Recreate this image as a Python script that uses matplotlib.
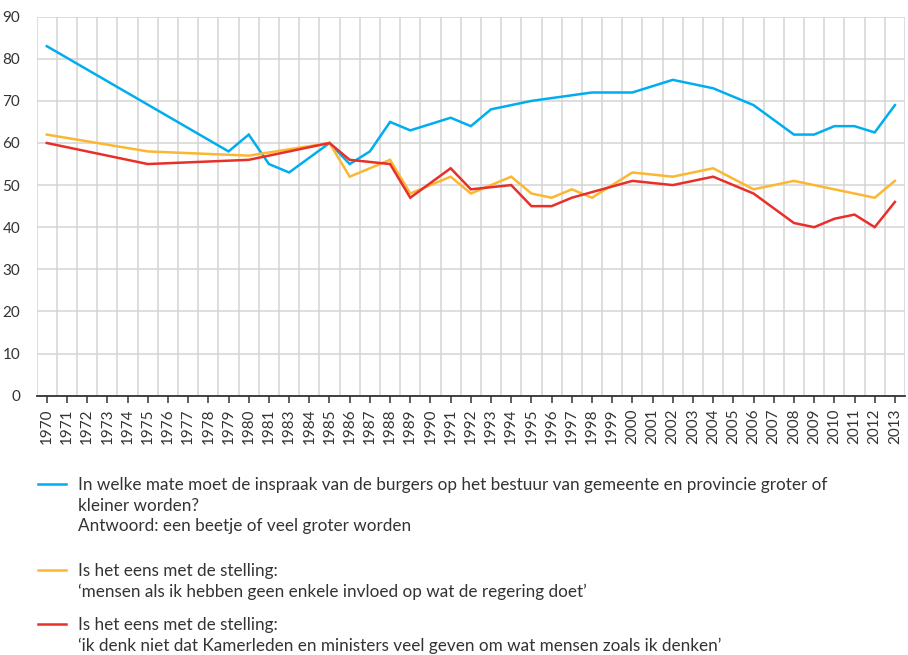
import matplotlib
matplotlib.use('Agg')
import matplotlib.pyplot as plt
from matplotlib.lines import Line2D
from matplotlib.ticker import FixedLocator
import numpy as np

#categories on the x axis (1982 is not in the series)
years = [str(y) for y in range(1970, 1982)] + [str(y) for y in range(1983, 2014)]

#percentages per year, None where the year has no measurement
inspraak = [83, None, None, None, None, None, None, None, None, 58, 62, 55,
            53, None, 60, 55, 58, 65, 63, None, 66, 64, 68, 69, 70, None,
            None, 72, None, 72, None, 75, None, 73, None, 69, None, 62, 62,
            64, 64, 62.5, 69]
invloed = [62, None, None, None, None, 58, None, None, None, None, 57, None,
           None, None, 60, 52, None, 56, 48, None, 52, 48, 50, 52, 48, 47,
           49, 47, None, 53, None, 52, None, 54, None, 49, None, 51, None,
           None, None, 47, 51]
kamerleden = [60, None, None, None, None, 55, None, None, None, None, 56, None,
              None, None, 60, 56, None, 55, 47, None, 54, 49, None, 50, 45, 45,
              47, None, None, 51, None, 50, None, 52, None, 48, None, 41, 40,
              42, 43, 40, 46]

labels = ['In welke mate moet de inspraak van de burgers op het bestuur van gemeente en provincie groter of\n'
          'kleiner worden?\nAntwoord: een beetje of veel groter worden',
          'Is het eens met de stelling:\n'
          '\u2018mensen als ik hebben geen enkele invloed op wat de regering doet\u2019',
          'Is het eens met de stelling:\n'
          '\u2018ik denk niet dat Kamerleden en ministers veel geven om wat mensen zoals ik denken\u2019']
colors = ['#00aeef', '#fbb732', '#e8302a']

plt.rcParams['font.family'] = ['Lato', 'DejaVu Sans']

W, H = 908, 655
fig = plt.figure(figsize=(W / 100, H / 100), dpi=100)
ax = fig.add_axes([36.7 / W, 1 - 395.6 / H, (905 - 36.7) / W, (395.6 - 16.7) / H])

for series, col in zip([inspraak, invloed, kamerleden], colors):
    xs = [i for i, v in enumerate(series) if v is not None]
    ys = [v for v in series if v is not None]
    ax.plot(xs, ys, color=col, lw=1.8, solid_joinstyle='miter', zorder=3)

ax.set_xlim(-0.5, len(years) - 0.5)
ax.set_ylim(0, 90)
ax.set_yticks(range(0, 91, 10))
ax.set_xticks(range(len(years)))
ax.set_xticklabels(years, rotation=90)
ax.xaxis.set_minor_locator(FixedLocator(np.arange(-0.5, len(years), 1)))

ax.grid(axis='y', which='major', color='#d4d4d4', lw=1.1)
ax.grid(axis='x', which='minor', color='#d4d4d4', lw=1.1)
ax.set_axisbelow(True)

for s in ['left', 'right', 'top']:
    ax.spines[s].set_visible(False)
ax.spines['bottom'].set_color('#333333')
ax.spines['bottom'].set_linewidth(1.3)

ax.tick_params(axis='x', which='major', length=5, width=1.1, color='#333333',
               labelsize=11, labelcolor='#333333', pad=4)
ax.tick_params(axis='x', which='minor', length=0)
ax.tick_params(axis='y', length=0, labelsize=11, labelcolor='#333333', pad=12)

#legend drawn by hand below the chart
entry_y = [484, 570, 624]
for lab, col, y in zip(labels, colors, entry_y):
    fig.add_artist(Line2D([38 / W, 66 / W], [1 - y / H, 1 - y / H], color=col, lw=1.8))
    fig.text(78 / W, 1 - (y - 7) / H, lab, fontsize=12.3, color='#333333',
             va='top', ha='left', linespacing=1.36)

fig.savefig('out.png', dpi=100)
